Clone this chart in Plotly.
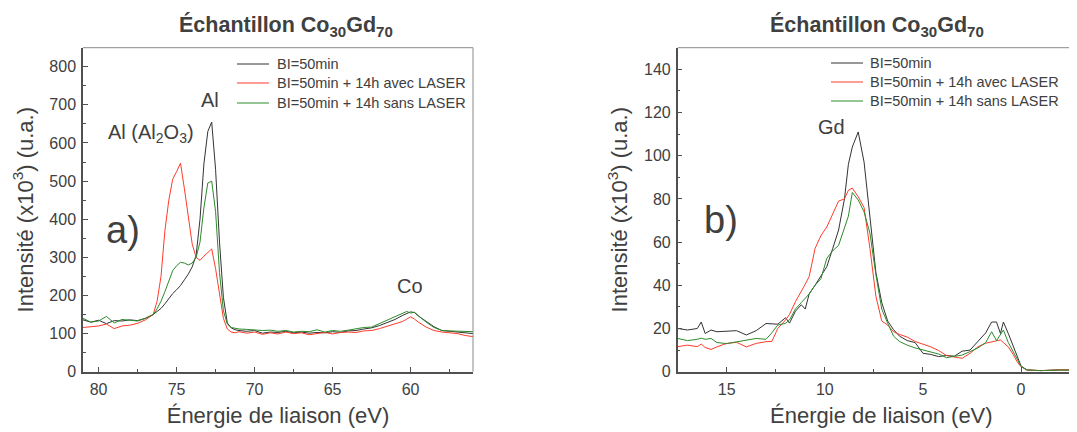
import plotly.graph_objects as go

# ---------------- Panel a) : Al / Co region ----------------
energy_a = [81, 80.5, 80, 79.5, 79, 78.5, 78, 77.5, 77, 76.5, 76.25, 76, 75.75, 75.5, 75.25, 75,
            74.75, 74.5, 74.25, 74, 73.75, 73.5, 73.25, 73, 72.75, 72.5, 72.25, 72, 71.75, 71.5,
            71.25, 71, 70.5, 70, 69.5, 69, 68.5, 68, 67.5, 67, 66.5, 66, 65.5, 65, 64.5, 64, 63.5,
            63, 62.5, 62, 61.5, 61, 60.5, 60.25, 60, 59.75, 59.5, 59, 58.5, 58, 57.5, 57, 56.5, 56]

bi50_a = [136, 130, 135, 126, 134, 133, 136, 134, 140, 150, 158, 166, 178, 193, 205, 215,
          226, 241, 256, 275, 305, 400, 545, 630, 655, 530, 340, 195, 128, 115,
          110, 108, 106, 108, 101, 104, 103, 106, 102, 104, 101, 103, 102, 105, 103, 107, 108,
          112, 115, 121, 128, 137, 148, 153, 157, 155, 146, 132, 118, 108, 106, 104, 102, 100]

laser_a = [116, 118, 120, 125, 113, 120, 122, 127, 136, 150, 185, 250, 370, 450, 505, 525,
           547, 480, 400, 335, 300, 292, 303, 312, 322, 270, 205, 140, 112, 104,
           102, 105, 101, 104, 98, 102, 99, 104, 100, 102, 97, 100, 103, 99, 103, 104, 103,
           107, 108, 113, 120, 127, 132, 138, 144, 138, 130, 117, 108, 104, 102, 100, 95, 92]

nolaser_a = [140, 130, 133, 145, 128, 137, 135, 133, 140, 150, 165, 185, 210, 240, 265, 278,
             287, 285, 280, 285, 300, 340, 430, 495, 500, 420, 260, 160, 125, 116,
             113, 112, 111, 110, 108, 109, 106, 108, 104, 106, 105, 110, 104, 108, 106, 109, 112,
             116, 117, 126, 134, 143, 152, 158, 154, 156, 147, 130, 116, 108, 107, 106, 105, 105]

# ---------------- Panel b) : Gd region ----------------
energy_b = [17.5, 17.0, 16.5, 16.3, 16.1, 15.8, 15.5, 15.0, 14.5, 14.0, 13.5, 13.0, 12.7, 12.4,
            12.0, 11.8, 11.5, 11.2, 11.0, 10.8, 10.5, 10.2, 9.9, 9.6, 9.3, 9.0, 8.8, 8.6, 8.3,
            8.0, 7.7, 7.4, 7.1, 6.8, 6.5, 6.2, 5.8, 5.4, 5.0, 4.6, 4.2, 3.8, 3.4, 3.0, 2.6, 2.2,
            1.8, 1.5, 1.25, 1.05, 0.9, 0.65, 0.4, 0.2, 0.0, -0.3, -1.0, -2.0, -3.0, -3.3]

bi50_b = [20, 19.3, 20, 23, 17.7, 19.3, 18.5, 18.8, 19, 17, 19, 22.3, 22, 22,
          25, 22.5, 28, 31, 29, 36, 40, 44, 48.6, 57, 65.6, 80, 96, 104, 111,
          97, 73, 46, 32, 23.5, 19.5, 16.5, 14.4, 13.5, 8.5, 8, 7, 7.5, 7.2, 9.5, 10, 14,
          18, 23, 23, 17.7, 23, 17.7, 12, 7, 2.6, 0.8, 0.5, 0.8, 0.6, 0.6]

laser_b = [11.6, 12.3, 11.6, 12.8, 11.2, 10.3, 11.5, 13.1, 13.6, 11.5, 13.1, 13.9, 14, 20,
           24, 26.5, 32.4, 37, 40.5, 44, 57, 63, 67, 73, 79, 80, 84, 85, 81,
           76, 57, 35, 23.5, 21.6, 18.5, 17.3, 16, 14, 12.8, 11.5, 9.8, 7.5, 6.8, 6.2, 8.5, 11.5,
           13.2, 13.9, 14.3, 14.7, 13.5, 11.5, 8, 4.6, 2.3, 0.8, 0.5, 0.9, 0.7, 0.7]

nolaser_b = [15.4, 14.4, 15, 15.5, 15, 15.4, 13.5, 13, 13.8, 14.5, 15.4, 15, 18, 21.6,
             22.4, 24, 29, 32, 34, 36, 40, 43, 52.5, 56, 58.5, 66, 72, 83, 79.5,
             74, 64, 45, 29, 22.5, 16.5, 14, 12.3, 11, 10, 9, 8.2, 6.5, 7, 7.7, 9.3, 11,
             13.5, 18.5, 14.4, 17, 19.3, 13.5, 9.5, 6.2, 2.5, 0.8, 0.5, 0.8, 0.6, 0.6]

series_names = ["BI=50min", "BI=50min + 14h avec LASER", "BI=50min + 14h sans LASER"]
series_colors = ["#333333", "#ff3b2a", "#2c8a2c"]

W, H = 1077, 432
OFF = 8  # default page margin around the plot div
FONT = "Liberation Sans, Arial, sans-serif"
TXT = "#404040"
AX = "#505050"

# panel frames (screen pixels)
a_left, a_right, top_px, bot_px = 83, 473, 47.7, 371.7
b_left, b_right = 677.7, 1085

def px(v):
    return (v - OFF) / W

def py(v):
    return 1 - (v - OFF) / H

fig = go.Figure()

for ys, name, col in zip([bi50_a, laser_a, nolaser_a], series_names, series_colors):
    fig.add_trace(go.Scatter(x=energy_a, y=ys, mode="lines", name=name,
                             line=dict(color=col, width=1), xaxis="x", yaxis="y",
                             showlegend=False))
for ys, name, col in zip([bi50_b, laser_b, nolaser_b], series_names, series_colors):
    fig.add_trace(go.Scatter(x=energy_b, y=ys, mode="lines", name=name,
                             line=dict(color=col, width=1), xaxis="x2", yaxis="y2",
                             showlegend=False))

axis_common = dict(showline=True, linecolor=AX, linewidth=1.5, ticks="inside", ticklen=5,
                   tickcolor=AX, tickwidth=1, showgrid=False, zeroline=False, automargin=False,
                   tickfont=dict(family=FONT, size=16, color=TXT),
                   title_font=dict(family=FONT, size=22, color=TXT))

fig.update_layout(
    width=W, height=H, margin=dict(l=0, r=0, t=0, b=0),
    paper_bgcolor="white", plot_bgcolor="white",
    xaxis=dict(domain=[px(a_left), px(a_right)], range=[81, 56], dtick=5, tick0=0,
               minor=dict(dtick=2.5, ticks="inside", ticklen=3, tickcolor=AX),
               ticklabelstandoff=2, title_standoff=11,
               title_text="Énergie de liaison (eV)", anchor="y", **axis_common),
    yaxis=dict(domain=[py(bot_px), py(top_px)], range=[0, 850], dtick=100, tick0=0,
               minor=dict(dtick=50, ticks="inside", ticklen=3, tickcolor=AX),
               ticklabelstandoff=2, title_standoff=10,
               title_text="Intensité (x10<sup>3</sup>) (u.a.)", anchor="x", **axis_common),
    xaxis2=dict(domain=[px(b_left), px(b_right)], range=[17.5, -3.26], dtick=5, tick0=0,
                minor=dict(dtick=2.5, ticks="inside", ticklen=3, tickcolor=AX),
                ticklabelstandoff=2, title_standoff=11,
                title_text="Énergie de liaison (eV)", anchor="y2", **axis_common),
    yaxis2=dict(domain=[py(bot_px), py(top_px)], range=[0, 150], dtick=20, tick0=0,
                minor=dict(dtick=10, ticks="inside", ticklen=3, tickcolor=AX),
                ticklabelstandoff=2, title_standoff=10,
                title_text="Intensité (x10<sup>3</sup>) (u.a.)", anchor="x2", **axis_common),
    showlegend=False,
)

# lighter frame lines (top / right)
frame = dict(type="line", xref="paper", yref="paper", line=dict(color="#8a8a8a", width=1))
fig.add_shape(x0=px(a_left), x1=px(a_right), y0=py(top_px), y1=py(top_px), **frame)
fig.add_shape(x0=px(a_right), x1=px(a_right), y0=py(top_px), y1=py(bot_px), **frame)
fig.add_shape(x0=px(b_left), x1=px(b_right), y0=py(top_px), y1=py(top_px), **frame)

# legends (line sample + text) for both panels
legend_specs = [(237, 269, 275, [64, 83, 103]), (831, 863, 868, [63, 82, 101])]
for lx0, lx1, tx, rows in legend_specs:
    for name, col, ry in zip(series_names, series_colors, rows):
        fig.add_shape(type="line", xref="paper", yref="paper", x0=px(lx0), x1=px(lx1),
                      y0=py(ry), y1=py(ry), line=dict(color=col, width=1))
        fig.add_annotation(text=name, xref="paper", yref="paper", x=px(tx), y=py(ry),
                           showarrow=False, xanchor="left", yanchor="middle",
                           font=dict(family=FONT, size=14.5, color=TXT))

title_txt = "<b>Échantillon Co<sub>30</sub>Gd<sub>70</sub></b>"
for cx in (286, 877):
    fig.add_annotation(text=title_txt, xref="paper", yref="paper", x=px(cx), y=py(26),
                       showarrow=False, xanchor="center", yanchor="middle",
                       font=dict(family=FONT, size=21.5, color=TXT))

def label(text, x, y, xa, ya, size):
    fig.add_annotation(text=text, x=x, y=y, xref=xa, yref=ya, showarrow=False,
                       xanchor="center", yanchor="middle",
                       font=dict(family=FONT, size=size, color=TXT))

label("Al (Al<sub>2</sub>O<sub>3</sub>)", 76.67, 625, "x", "y", 20)
label("Al", 72.85, 713, "x", "y", 20)
label("a)", 78.45, 372, "x", "y", 38)
label("Co", 60.03, 225, "x", "y", 20)
label("Gd", 9.68, 113.3, "x2", "y2", 20)
label("b)", 15.29, 70.2, "x2", "y2", 38)

fig.write_html("out.html")
